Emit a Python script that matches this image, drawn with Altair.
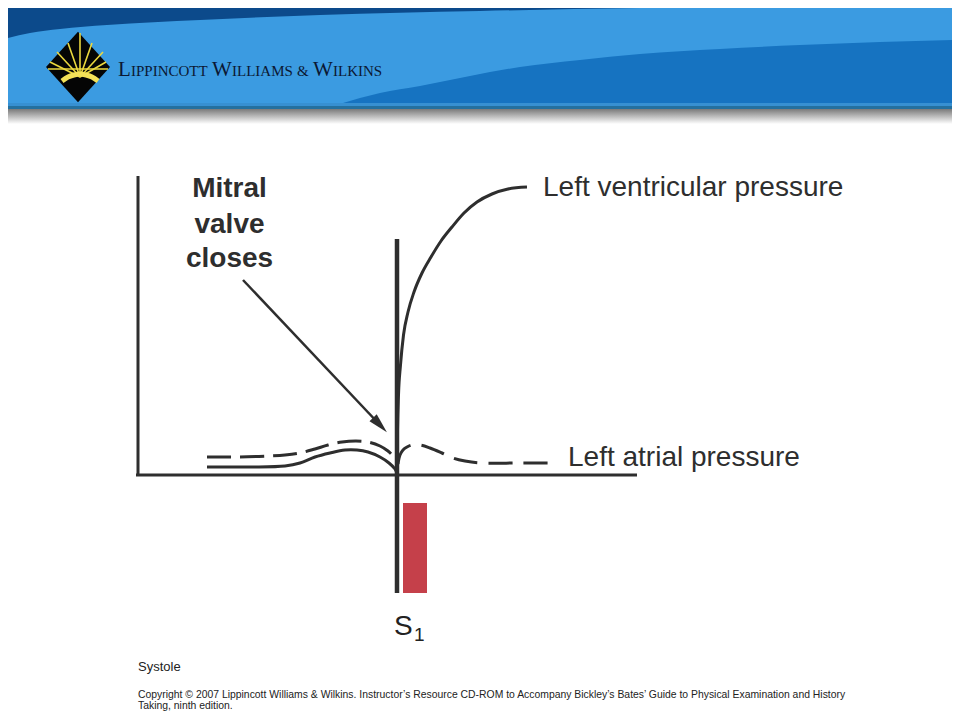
import altair as alt
import pandas as pd

# ---------------- data (reference pixel units) ----------------
# header bands
light_band_x = [8, 30, 60, 107, 200, 320, 480, 640, 800, 952]
light_band_top = [38, 33, 29, 25, 20, 15, 11, 8, 6, 5]
mid_band_x = [343, 360, 380, 420, 470, 520, 580, 640, 720, 800, 880, 952]
mid_band_top = [103, 98, 93, 86, 76, 67, 60, 54, 49, 45, 42, 40]

# logo rays (origin -> end)
ray_x1 = [80, 80, 80, 80, 80, 80, 80, 48]
ray_y1 = [77, 77, 77, 77, 77, 77, 77, 69]
ray_x2 = [80, 68, 57, 50, 92, 103, 106, 108]
ray_y2 = [33, 43, 52, 62, 43, 52, 62, 69]
arc_x = [62, 68, 74, 80, 86, 92, 98]
arc_y = [81, 77, 75, 74, 75, 77, 81]

logo_big = ["L", "W", "W"]
logo_big_x = [118, 212, 313]
logo_small = ["IPPINCOTT", "ILLIAMS", "&", "ILKINS"]
logo_small_x = [131, 232, 297, 333]

# Left ventricular pressure (systolic rise)
lv_rise_x = [397, 397.5, 398.5, 400.5, 403.5, 408, 414, 422, 431, 441, 452, 464, 477, 492, 508, 527]
lv_rise_y = [465, 430, 395, 365, 335, 312, 292, 273, 257, 241, 227, 213, 202, 194, 189, 187]
# Left ventricular pressure (diastole, solid, left of S1)
lv_dia_x = [207, 250, 285, 300, 315, 330, 345, 357, 368, 380, 389, 395, 397]
lv_dia_y = [467, 467, 466, 463, 457, 453, 450, 450, 452, 457, 463, 469, 474]
# Left atrial pressure (dashed)
la_left_x = [207, 240, 268, 285, 300, 315, 328, 342, 356, 368, 380, 388, 395]
la_left_y = [457, 457, 456, 455, 453, 449, 445, 442, 441, 442, 446, 451, 458]
la_right_x = [398, 400, 403, 407, 412, 420, 430, 442, 453, 465, 480, 520, 557]
la_right_y = [464, 455, 450, 447, 445, 445, 448, 453, 458, 461, 463, 463, 463]

# frame lines
frame_x1 = [138, 136]
frame_y1 = [176, 475]
frame_x2 = [138, 637]
frame_y2 = [476, 475]
s1_line = dict(x=[397], y=[239], x2=[397], y2=[593])
s1_bar = dict(x=[403], x2=[427], y=[503], y2=[593])

arrow = dict(x=[243], y=[280], x2=[380], y2=[425])

mitral_lines = ["Mitral", "valve", "closes"]
mitral_x = [229.5, 229.5, 229.5]
mitral_y = [197, 233, 267]

labels = ["Left ventricular pressure", "Left atrial pressure"]
labels_x = [543, 568]
labels_y = [196, 466]

caption = ["Systole"]
copyright_lines = [
    "Copyright \u00a9 2007 Lippincott Williams & Wilkins. Instructor\u2019s Resource CD-ROM to Accompany Bickley\u2019s Bates\u2019 Guide to Physical Examination and History",
    "Taking, ninth edition.",
]

# ---------------- scales ----------------
X = alt.X("x:Q", scale=alt.Scale(domain=[8, 952], nice=False, zero=False), axis=None)
Y = alt.Y("y:Q", scale=alt.Scale(domain=[8, 712], nice=False, zero=False, reverse=True), axis=None)
X2 = alt.X2("x2:Q")
Y2 = alt.Y2("y2:Q")

INK = "#2e2e2e"


def rect(x, x2, y, y2, **mk):
    df = pd.DataFrame({"x": [x], "x2": [x2], "y": [y], "y2": [y2]})
    return alt.Chart(df).mark_rect(**mk).encode(x=X, x2=X2, y=Y, y2=Y2)


def line(xs, ys, **mk):
    df = pd.DataFrame({"x": xs, "y": ys, "i": list(range(len(xs)))})
    return alt.Chart(df).mark_line(**mk).encode(x=X, y=Y, order="i:Q")


def rules(d, **mk):
    return alt.Chart(pd.DataFrame(d)).mark_rule(**mk).encode(x=X, y=Y, x2=X2, y2=Y2)


def texts(ts, xs, ys, **mk):
    df = pd.DataFrame({"t": ts, "x": xs, "y": ys})
    return alt.Chart(df).mark_text(baseline="alphabetic", **mk).encode(x=X, y=Y, text="t:N")


# header
dark_band = rect(8, 952, 8, 104, color="#0C4A8B")
light_band = alt.Chart(pd.DataFrame({"x": light_band_x, "y": light_band_top, "y2": [104] * len(light_band_x)})).mark_area(
    color="#3B9BE1", interpolate="monotone").encode(x=X, y=Y, y2=Y2)
mid_band = alt.Chart(pd.DataFrame({"x": mid_band_x, "y": mid_band_top, "y2": [104] * len(mid_band_x)})).mark_area(
    color="#1673C1", interpolate="monotone").encode(x=X, y=Y, y2=Y2)
strip1 = rect(8, 952, 103, 106, color="#3790D2")
strip2 = rect(8, 952, 106, 109, color="#24709F")
shadow = rect(8, 952, 109, 124, fill=alt.LinearGradient(
    gradient="linear",
    stops=[alt.GradientStop(color="#7a7a7a", offset=0), alt.GradientStop(color="#ffffff", offset=1)],
    x1=0, x2=0, y1=0, y2=1), stroke=None)

diamond = alt.Chart(pd.DataFrame({"x": [78], "y": [67]})).mark_point(
    shape="M0,-1.1L1,0L0,1.1L-1,0Z", size=4096, filled=True, color="#050505", opacity=1).encode(x=X, y=Y)
rays = rules({"x": ray_x1, "y": ray_y1, "x2": ray_x2, "y2": ray_y2}, color="#EBD83E", strokeWidth=1.6)
arc = line(arc_x, arc_y, color="#F3E158", strokeWidth=5, interpolate="monotone")
logo_t1 = texts(logo_big, logo_big_x, [76] * 3, font="Liberation Serif", fontSize=21, color="#0B1833", align="left")
logo_t2 = texts(logo_small, logo_small_x, [76] * 4, font="Liberation Serif", fontSize=15, color="#0B1833", align="left")

# diagram
frame = rules({"x": frame_x1, "y": frame_y1, "x2": frame_x2, "y2": frame_y2}, color=INK, strokeWidth=3)
s1 = rules(s1_line, color=INK, strokeWidth=4.5)
bar = alt.Chart(pd.DataFrame(s1_bar)).mark_rect(color="#C5404A").encode(x=X, x2=X2, y=Y, y2=Y2)
lv_rise = line(lv_rise_x, lv_rise_y, color=INK, strokeWidth=3, interpolate="monotone")
lv_dia = line(lv_dia_x, lv_dia_y, color=INK, strokeWidth=3, interpolate="catmull-rom")
la_left = line(la_left_x, la_left_y, color=INK, strokeWidth=3, interpolate="catmull-rom", strokeDash=[24, 9])
la_right = line(la_right_x, la_right_y, color=INK, strokeWidth=3, interpolate="catmull-rom", strokeDash=[24, 11])
arrow_line = rules(arrow, color=INK, strokeWidth=2.5)
arrow_head = alt.Chart(pd.DataFrame({"x": [380], "y": [425]})).mark_point(
    shape="M0,-1L0.5,1L-0.5,1Z", size=400, angle=136.4, filled=True, color=INK, opacity=1).encode(x=X, y=Y)

mitral = texts(mitral_lines, mitral_x, mitral_y, font="Liberation Sans", fontSize=28, fontWeight="bold", color=INK, align="center")
lab = texts(labels, labels_x, labels_y, font="Liberation Sans", fontSize=28, color=INK, align="left")
s_text = texts(["S"], [394], [635], font="Liberation Sans", fontSize=28, color="#222222", align="left")
s_sub = texts(["1"], [414], [641], font="Liberation Sans", fontSize=19, color="#222222", align="left")
cap = texts(caption, [138], [671], font="Liberation Sans", fontSize=13, color="#222222", align="left")
copy = texts(copyright_lines, [138, 138], [698, 709], font="Liberation Sans", fontSize=10.4, color="#222222", align="left")

chart = alt.layer(
    dark_band, light_band, mid_band, strip1, strip2, shadow,
    diamond, rays, arc, logo_t1, logo_t2,
    frame, s1, bar, lv_dia, la_left, la_right, lv_rise, arrow_line, arrow_head,
    mitral, lab, s_text, s_sub, cap, copy,
).properties(width=944, height=704, padding=0, autosize="none", background="white").configure_view(stroke=None)

chart.save("out.html", embed_options={"renderer": "svg", "actions": False})
